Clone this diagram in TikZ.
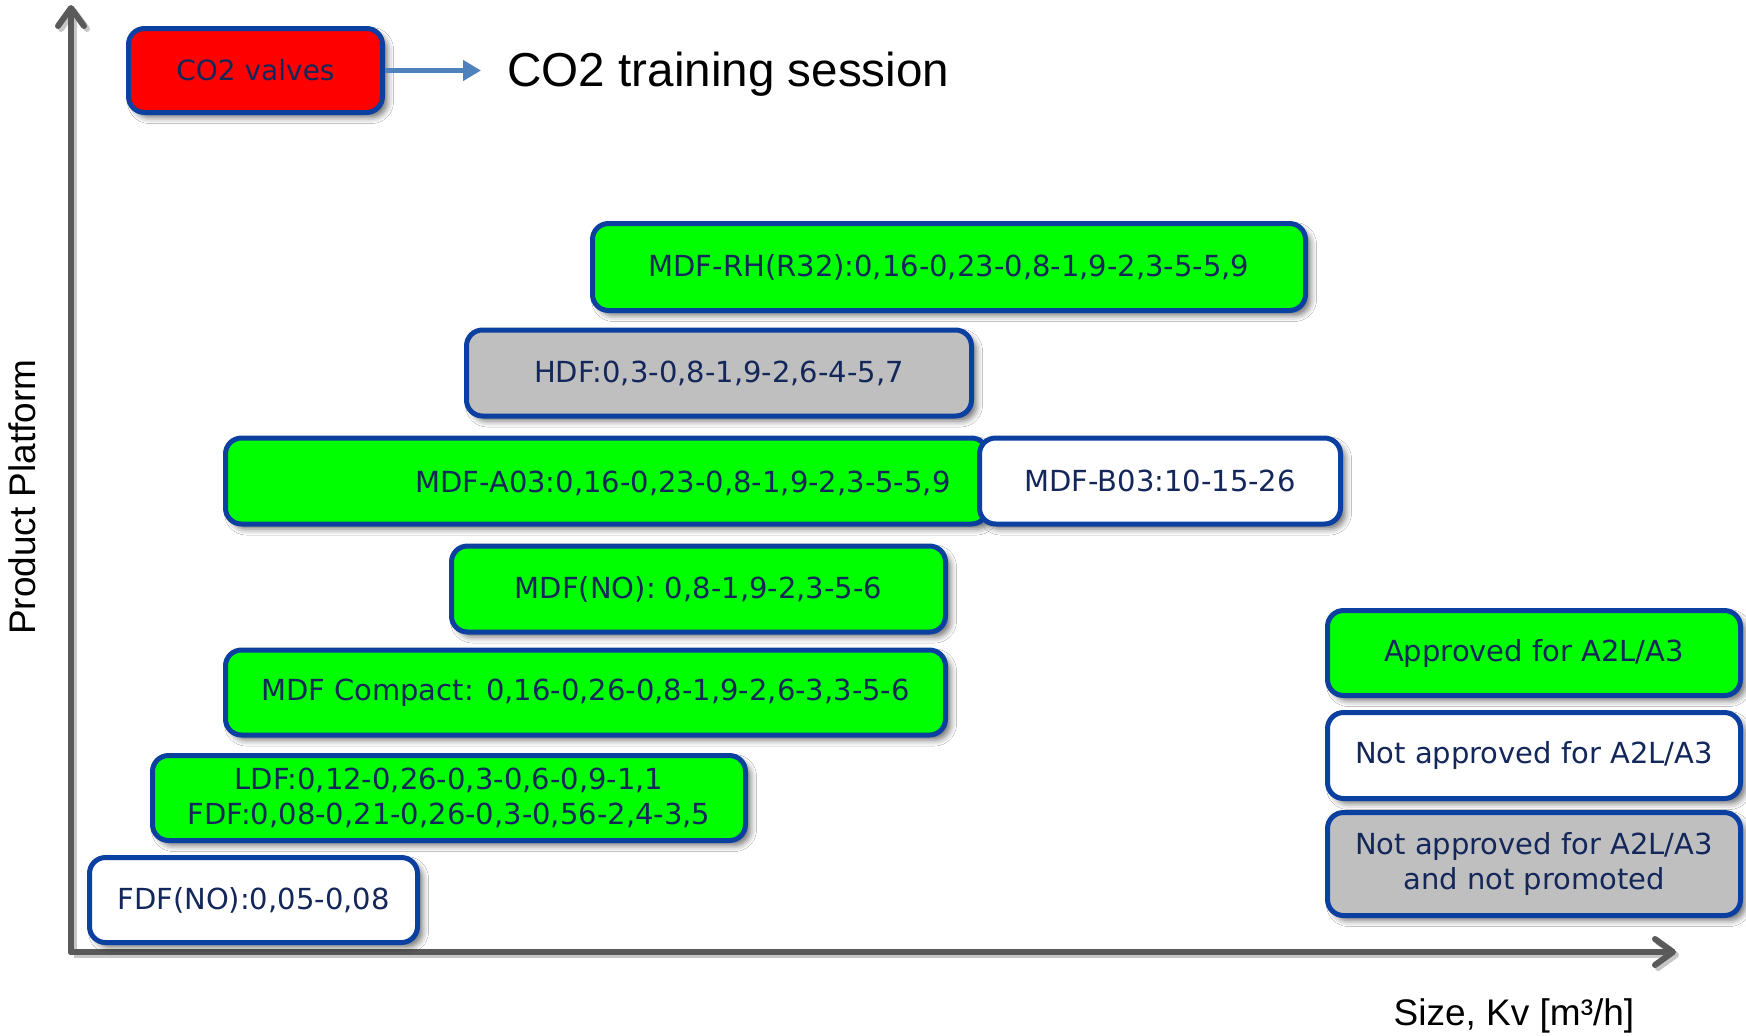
\documentclass[tikz,border=0pt]{standalone}
\usepackage{fontspec}
\setmainfont{DejaVu Sans}
\newfontfamily\arialf{Liberation Sans}
\usetikzlibrary{arrows.meta,shadows.blur}
\definecolor{bbord}{HTML}{0B3FA0}
\definecolor{btext}{HTML}{14275A}
\definecolor{vgreen}{HTML}{00FF00}
\definecolor{vgray}{HTML}{BFBFBF}
\definecolor{vred}{HTML}{FF0000}
\definecolor{axisgray}{HTML}{5A5A5A}
\definecolor{arrblue}{HTML}{4F81BD}
\begin{document}
\begin{tikzpicture}[x=0.5pt,y=-0.5pt,
  box/.style={draw=bbord, line width=2.5pt, rounded corners=8pt, text=btext,
    font=\fontsize{14.5pt}{17.3pt}\selectfont, align=center, inner sep=0pt,
    blur shadow={shadow xshift=2.5pt, shadow yshift=-2.5pt, shadow blur radius=3pt, shadow opacity=55}},
  gbox/.style={box, fill=vgreen},
  wbox/.style={box, fill=white},
  greybox/.style={box, fill=vgray},
  btxt/.style={text=btext, font=\fontsize{14.5pt}{17.3pt}\selectfont, inner sep=0pt},
  axis/.style={draw=axisgray, line width=3pt, line cap=round,
    -{Straight Barb[length=9pt,width=13pt,round]},
    preaction={draw=black!22, line width=3pt, transform canvas={xshift=1.5pt,yshift=-1.5pt}}},
  arial/.style={font=\arialf\fontsize{#1}{#1}\selectfont, inner sep=0pt, text=black}
]
\useasboundingbox (0,0) rectangle (1746,1035);
\fill[white] (0,0) rectangle (1746,1035);

% axes
\coordinate (O) at (71,952);
\coordinate (ytop) at (71,5);
\coordinate (xend) at (1676,952);
\draw[axis] (O) -- (ytop);
\draw[axis] (O) -- (xend);

\node[arial=18.5pt] (xlab) at (1514,1016) {Size, Kv [m³/h]};
\node[arial=18.5pt, rotate=90] (ylab) at (22,497) {Product Platform};

% CO2
\node[box, fill=vred, minimum width=127pt, minimum height=42pt,
  font=\fontsize{14pt}{17pt}\selectfont] (co2) at (255.5,70.5) {CO2 valves};
\node[arial=23.8pt, anchor=west] (title) at (507,74) {CO2 training session};
\draw[arrblue, line width=2.6pt, -{Triangle[length=9pt,width=10pt]}, shorten >=13pt]
  (co2.east) -- (co2.east -| title.west);

% product boxes
\node[gbox, minimum width=356.5pt, minimum height=43.5pt] (rh) at (949,267)
  {MDF-RH(R32):0,16-0,23-0,8-1,9-2,3-5-5,9};
\node[greybox, minimum width=252.5pt, minimum height=43pt] (hdf) at (719,373)
  {HDF:0,3-0,8-1,9-2,6-4-5,7};
\node[gbox, minimum width=381pt, minimum height=43pt] (a03) at (606.5,481) {};
\node[btxt, anchor=east] (a03t) at (951,483) {MDF-A03:0,16-0,23-0,8-1,9-2,3-5-5,9};
\node[wbox, minimum width=180.5pt, minimum height=43pt] (b03) at (1160,481)
  {MDF-B03:10-15-26};
\node[gbox, minimum width=247pt, minimum height=43pt] (mno) at (698.5,589)
  {MDF(NO): 0,8-1,9-2,3-5-6};
\node[gbox, minimum width=360pt, minimum height=42.5pt] (cmp) at (585.5,692.5)
  {MDF Compact: 0,16-0,26-0,8-1,9-2,6-3,3-5-6};
\node[gbox, minimum width=296.5pt, minimum height=42.5pt] (ldf) at (449,798)
  {LDF:0,12-0,26-0,3-0,6-0,9-1,1\\FDF:0,08-0,21-0,26-0,3-0,56-2,4-3,5};
\node[wbox, minimum width=164pt, minimum height=42.5pt] (fno) at (253.5,900)
  {FDF(NO):0,05-0,08};

% legend
\node[gbox, minimum width=206.5pt, minimum height=42.5pt] (lg1) at (1534,653)
  {Approved for A2L/A3};
\node[wbox, minimum width=206.5pt, minimum height=43pt] (lg2) at (1534,755.5)
  {Not approved for A2L/A3};
\node[greybox, minimum width=206.5pt, minimum height=51.5pt] (lg3) at (1534,864)
  {Not approved for A2L/A3\\and not promoted};
\end{tikzpicture}
\end{document}
